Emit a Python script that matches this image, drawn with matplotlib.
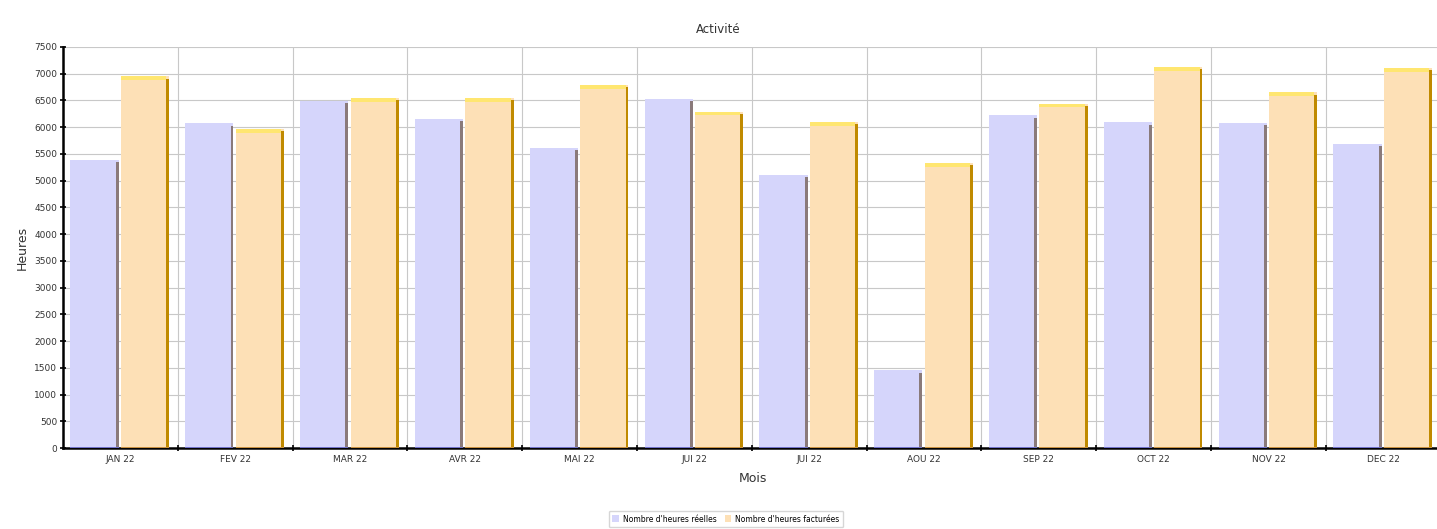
import numpy as np
import matplotlib
matplotlib.use("Agg")
import matplotlib.pyplot as plt
from matplotlib.patches import Patch

# Data
mois = ["JAN 22", "FEV 22", "MAR 22", "AVR 22", "MAI 22", "JUI 22",
        "JUI 22", "AOU 22", "SEP 22", "OCT 22", "NOV 22", "DEC 22"]
heures_reelles = [5380, 6070, 6490, 6150, 5610, 6530, 5110, 1450, 6220, 6090, 6080, 5680]
heures_facturees = [6950, 5960, 6550, 6550, 6790, 6290, 6100, 5330, 6440, 7120, 6650, 7110]
yticks = list(range(0, 7501, 500))

plt.rcParams['font.family'] = ['DejaVu Sans']

fig = plt.figure(figsize=(14.37, 5.29), dpi=100)
ax = fig.add_axes([63 / 1437, 81 / 529, 1380 / 1437, 401 / 529])

x = np.arange(len(mois))
width = 0.42
off_r, off_f = -0.225, 0.215

col_r, col_f = "#d5d5fb", "#fde0b6"
edge_r, edge_f = "#8a7a7a", "#c08a00"
top_f = "#ffe670"

# main bars
ax.bar(x + off_r, heures_reelles, width, color=col_r, zorder=3)
ax.bar(x + off_f, heures_facturees, width, color=col_f, zorder=3)

# pseudo 3D look: dark right edge, yellow top, thin base line
side = 0.025
ax.bar(x + off_r + width / 2 - side / 2, np.array(heures_reelles) - 40, side,
       color=edge_r, zorder=4)
ax.bar(x + off_f + width / 2 - side / 2, np.array(heures_facturees) - 40, side,
       color=edge_f, zorder=4)
ax.bar(x + off_f - side / 2, 70, width - side,
       bottom=np.array(heures_facturees) - 70, color=top_f, zorder=3.5)
ax.bar(x + off_r, 25, width, color="#7070c8", zorder=4)
ax.bar(x + off_f, 25, width, color="#c89040", zorder=4)

ax.set_xlim(-0.5, len(mois) - 0.48)
ax.set_ylim(0, 7500)
ax.set_yticks(yticks)
ax.set_yticklabels([str(v) for v in yticks], fontsize=6.5, color="#333333")
ax.set_xticks(x)
ax.set_xticklabels(mois, fontsize=6.5, color="#333333")
ax.set_xticks(x[:-1] + 0.5, minor=True)
ax.tick_params(axis="x", which="major", length=0, pad=5)
ax.tick_params(axis="x", which="minor", length=5, width=1.2, direction="inout")
ax.tick_params(axis="y", length=4, width=1.2, direction="inout", pad=2)

ax.grid(True, axis="y", color="#c8c8c8", linewidth=0.8, zorder=0)
for b in x[:-1] + 0.5:
    ax.axvline(b, color="#c8c8c8", linewidth=0.8, zorder=0)

for s in ["top", "right"]:
    ax.spines[s].set_visible(False)
ax.spines["left"].set_linewidth(1.8)
ax.spines["bottom"].set_linewidth(1.8)

ax.set_xlabel("Mois", fontsize=9, color="#333333", labelpad=6)
ax.set_ylabel("Heures", fontsize=9, color="#333333", labelpad=4)
fig.text(0.5, 0.945, "Activité", ha="center", va="center", fontsize=8.5, color="#333333")

handles = [Patch(facecolor=col_r, edgecolor="none"), Patch(facecolor=col_f, edgecolor="none")]
fig.legend(handles, ["Nombre d'heures réelles", "Nombre d'heures facturées"],
           loc="center", bbox_to_anchor=(726 / 1437, 1 - 519 / 529), ncol=2,
           fontsize=5.5, frameon=True, edgecolor="#cccccc", handlelength=0.8,
           handleheight=1.0, columnspacing=1.0, handletextpad=0.6, borderpad=0.5)

fig.savefig("out.png", dpi=100)
